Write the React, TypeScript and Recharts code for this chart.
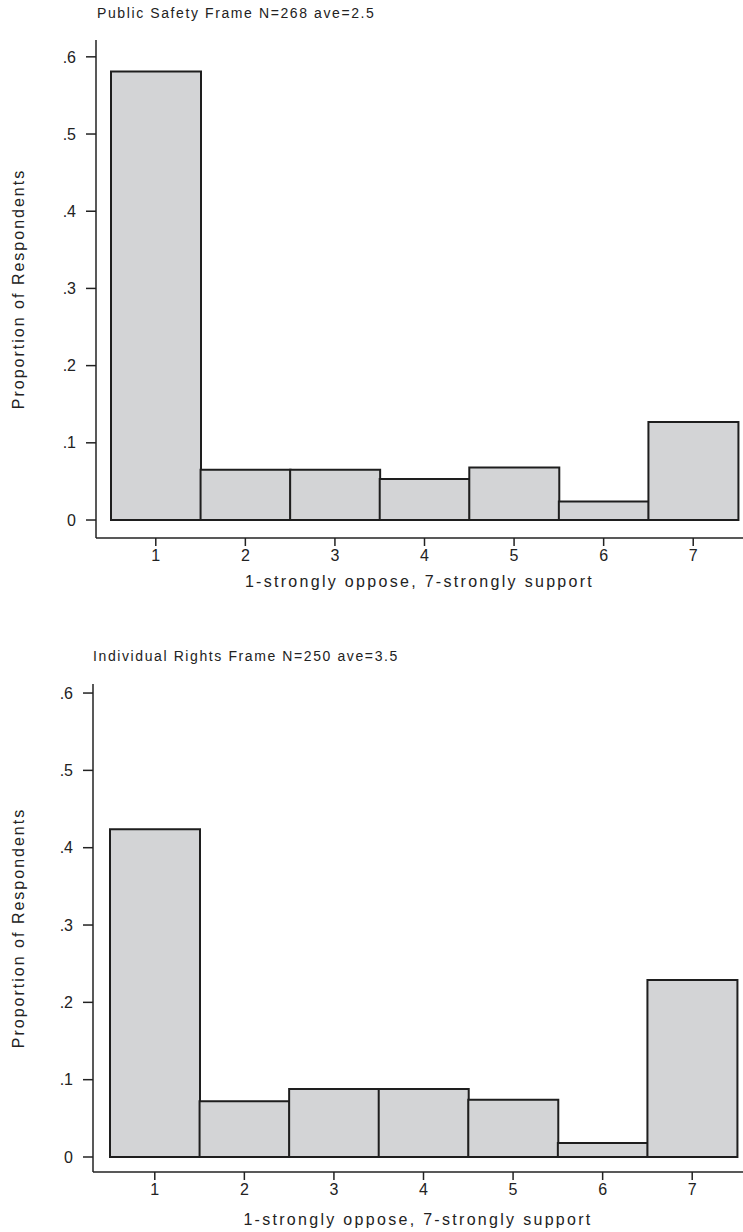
import { Bar, BarChart, XAxis, YAxis } from "recharts";

const scores = ["1", "2", "3", "4", "5", "6", "7"];
const publicSafety = [0.581, 0.065, 0.065, 0.053, 0.068, 0.024, 0.127];
const individualRights = [0.424, 0.072, 0.088, 0.088, 0.074, 0.018, 0.229];
const yTicks = [0, 0.1, 0.2, 0.3, 0.4, 0.5, 0.6];

const FONT = "'Liberation Sans', Arial, sans-serif";
const INK = "#222";

const fmt = (v: number) => (v === 0 ? "0" : String(v).replace("0.", "."));

type PanelProps = {
  title: string;
  values: number[];
  top: number;
  height: number;
  plotTop: number;
  axisWidth: number;
  xAxisHeight: number;
  padLeft: number;
  padRight: number;
  yDomain: [number, number];
  titleLeft: number;
  titleTop: number;
  xLabelOffset: number;
};

function Panel(p: PanelProps) {
  const data = scores.map((s, i) => ({ score: s, share: p.values[i] }));
  return (
    <div style={{ position: "absolute", left: 0, top: p.top, width: 743, height: p.height }}>
      <div
        style={{
          position: "absolute",
          left: p.titleLeft,
          top: p.titleTop,
          fontFamily: FONT,
          fontSize: 14,
          letterSpacing: 1.6,
          color: INK,
          whiteSpace: "nowrap",
        }}
      >
        {p.title}
      </div>
      <BarChart
        width={743}
        height={p.height}
        data={data}
        barCategoryGap={0}
        margin={{ top: p.plotTop, right: 0, left: 0, bottom: 0 }}
      >
        <XAxis
          dataKey="score"
          height={p.xAxisHeight}
          padding={{ left: p.padLeft, right: p.padRight }}
          tickSize={8}
          tickMargin={4}
          axisLine={{ stroke: INK, strokeWidth: 1.5 }}
          tickLine={{ stroke: INK, strokeWidth: 1.5 }}
          tick={{ fill: INK, fontSize: 16, fontFamily: FONT }}
          label={{
            value: "1-strongly oppose, 7-strongly support",
            position: "insideBottom",
            offset: p.xLabelOffset,
            fill: INK,
            fontSize: 16,
            fontFamily: FONT,
            letterSpacing: 2.3,
          }}
        />
        <YAxis
          type="number"
          width={p.axisWidth}
          domain={p.yDomain}
          allowDataOverflow
          ticks={yTicks}
          tickFormatter={fmt}
          tickSize={10}
          tickMargin={10}
          axisLine={{ stroke: INK, strokeWidth: 1.5 }}
          tickLine={{ stroke: INK, strokeWidth: 1.5 }}
          tick={{ fill: INK, fontSize: 16, fontFamily: FONT }}
          label={{
            value: "Proportion of Respondents",
            angle: -90,
            position: "insideLeft",
            offset: 18,
            textAnchor: "middle",
            fill: INK,
            fontSize: 16,
            fontFamily: FONT,
            letterSpacing: 2,
          }}
        />
        <Bar
          dataKey="share"
          fill="#d3d4d6"
          stroke="#1e1e1e"
          strokeWidth={2}
          isAnimationActive={false}
        />
      </BarChart>
    </div>
  );
}

export default function App() {
  return (
    <div style={{ position: "absolute", left: 0, top: 0, width: 743, height: 1232, background: "#fff" }}>
      <Panel
        title="Public Safety Frame N=268 ave=2.5"
        values={publicSafety}
        top={0}
        height={600}
        plotTop={40}
        axisWidth={96}
        xAxisHeight={62}
        padLeft={15}
        padRight={5}
        yDomain={[-0.0233, 0.6218]}
        titleLeft={97}
        titleTop={5}
        xLabelOffset={13}
      />
      <Panel
        title="Individual Rights Frame N=250 ave=3.5"
        values={individualRights}
        top={620}
        height={612}
        plotTop={64}
        axisWidth={93}
        xAxisHeight={60}
        padLeft={17}
        padRight={6}
        yDomain={[-0.0194, 0.6117]}
        titleLeft={93}
        titleTop={28}
        xLabelOffset={7}
      />
    </div>
  );
}
